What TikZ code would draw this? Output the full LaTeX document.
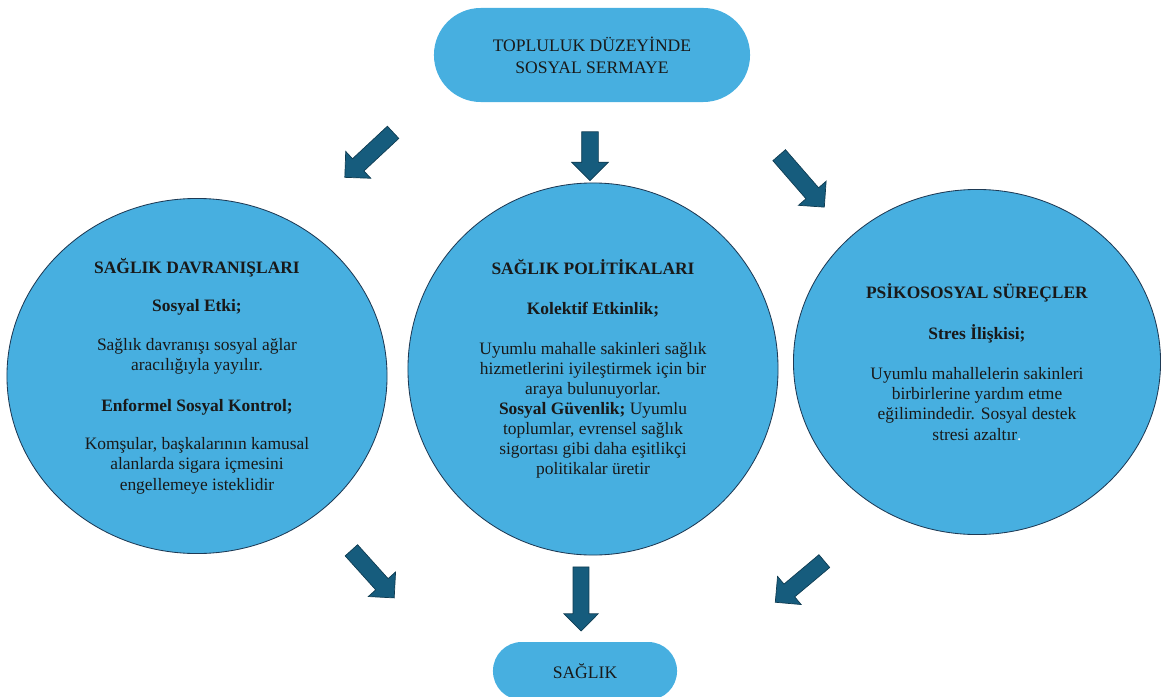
\documentclass[tikz,border=0pt]{standalone}
\usepackage{fontspec}
\setmainfont{Liberation Serif}
\usetikzlibrary{shapes.geometric,shapes.arrows}
\definecolor{bubblefill}{HTML}{47AFE0}
\definecolor{bubbleline}{HTML}{1E3A55}
\definecolor{arrowfill}{HTML}{165C7D}
\definecolor{arrowline}{HTML}{0F3C52}

\begin{document}
\begin{tikzpicture}[x=0.025cm,y=-0.025cm,
pill/.style={rectangle,fill=bubblefill,align=center,text=black!90,font=\fontsize{12.5}{15.5}\selectfont},
bubble/.style={ellipse,draw=bubbleline,line width=0.6pt,fill=bubblefill,inner sep=0pt,align=center,text=black!90,font=\fontsize{12.4}{14.3}\selectfont},
fatarrow/.style={single arrow,fill=arrowfill,draw=arrowline,line width=0.5pt,inner xsep=0pt,inner ysep=0.2cm,single arrow head extend=0.25cm,single arrow tip angle=90}]
\useasboundingbox (0,0) rectangle (1162,696);

\node (topluluk) [pill,minimum width=7.9cm,minimum height=2.35cm,rounded corners=1.17cm] at (592,55) {TOPLULUK DÜZEYİNDE\\SOSYAL SERMAYE};

\node (davranis) [bubble,minimum width=9.5cm,minimum height=8.875cm] at (197,376) {
    \textbf{SAĞLIK DAVRANIŞLARI}\\[13pt]
    \textbf{Sosyal Etki;}\\[13pt]
    Sağlık davranışı sosyal ağlar\\
    aracılığıyla yayılır.\\[15pt]
    \textbf{Enformel Sosyal Kontrol;}\\[13pt]
    Komşular, başkalarının kamusal\\
    alanlarda sigara içmesini\\
    engellemeye isteklidir};

\node (politika) [bubble,minimum width=9.25cm,minimum height=9.3cm] at (593,369) {
    \textbf{SAĞLIK POLİTİKALARI}\\[14pt]
    \textbf{Kolektif Etkinlik;}\\[14pt]
    Uyumlu mahalle sakinleri sağlık\\
    hizmetlerini iyileştirmek için bir\\
    araya bulunuyorlar.\\
    \textbf{Sosyal Güvenlik;} Uyumlu\\
    toplumlar, evrensel sağlık\\
    sigortası gibi daha eşitlikçi\\
    politikalar üretir};

\node (psikososyal) [bubble,minimum width=9.175cm,minimum height=8.625cm] at (977,362) {
    \textbf{PSİKOSOSYAL SÜREÇLER}\\[15pt]
    \textbf{Stres İlişkisi;}\\[14pt]
    Uyumlu mahallelerin sakinleri\\
    birbirlerine yardım etme\\
    eğilimindedir. Sosyal destek\\
    stresi azaltır\textcolor{white}{.}};

\node (saglik) [pill,minimum width=4.6cm,minimum height=1.45cm,rounded corners=0.72cm] at (585,671) {SAĞLIK};

\node (okSolUst) [fatarrow,minimum height=1.65cm,rotate=223] at (372,152) {};
\node (okOrtaUst) [fatarrow,minimum height=1.22cm,rotate=270] at (590,152) {};
\node (okSagUst) [fatarrow,minimum height=1.72cm,rotate=-49] at (799,178) {};
\node (okSolAlt) [fatarrow,minimum height=1.6cm,rotate=-48] at (370,571) {};
\node (okOrtaAlt) [fatarrow,minimum height=1.6cm,inner ysep=0.19cm,single arrow head extend=0.23cm,rotate=270] at (581,595) {};
\node (okSagAlt) [fatarrow,minimum height=1.6cm,rotate=220] at (803,579) {};
\end{tikzpicture}
\end{document}
